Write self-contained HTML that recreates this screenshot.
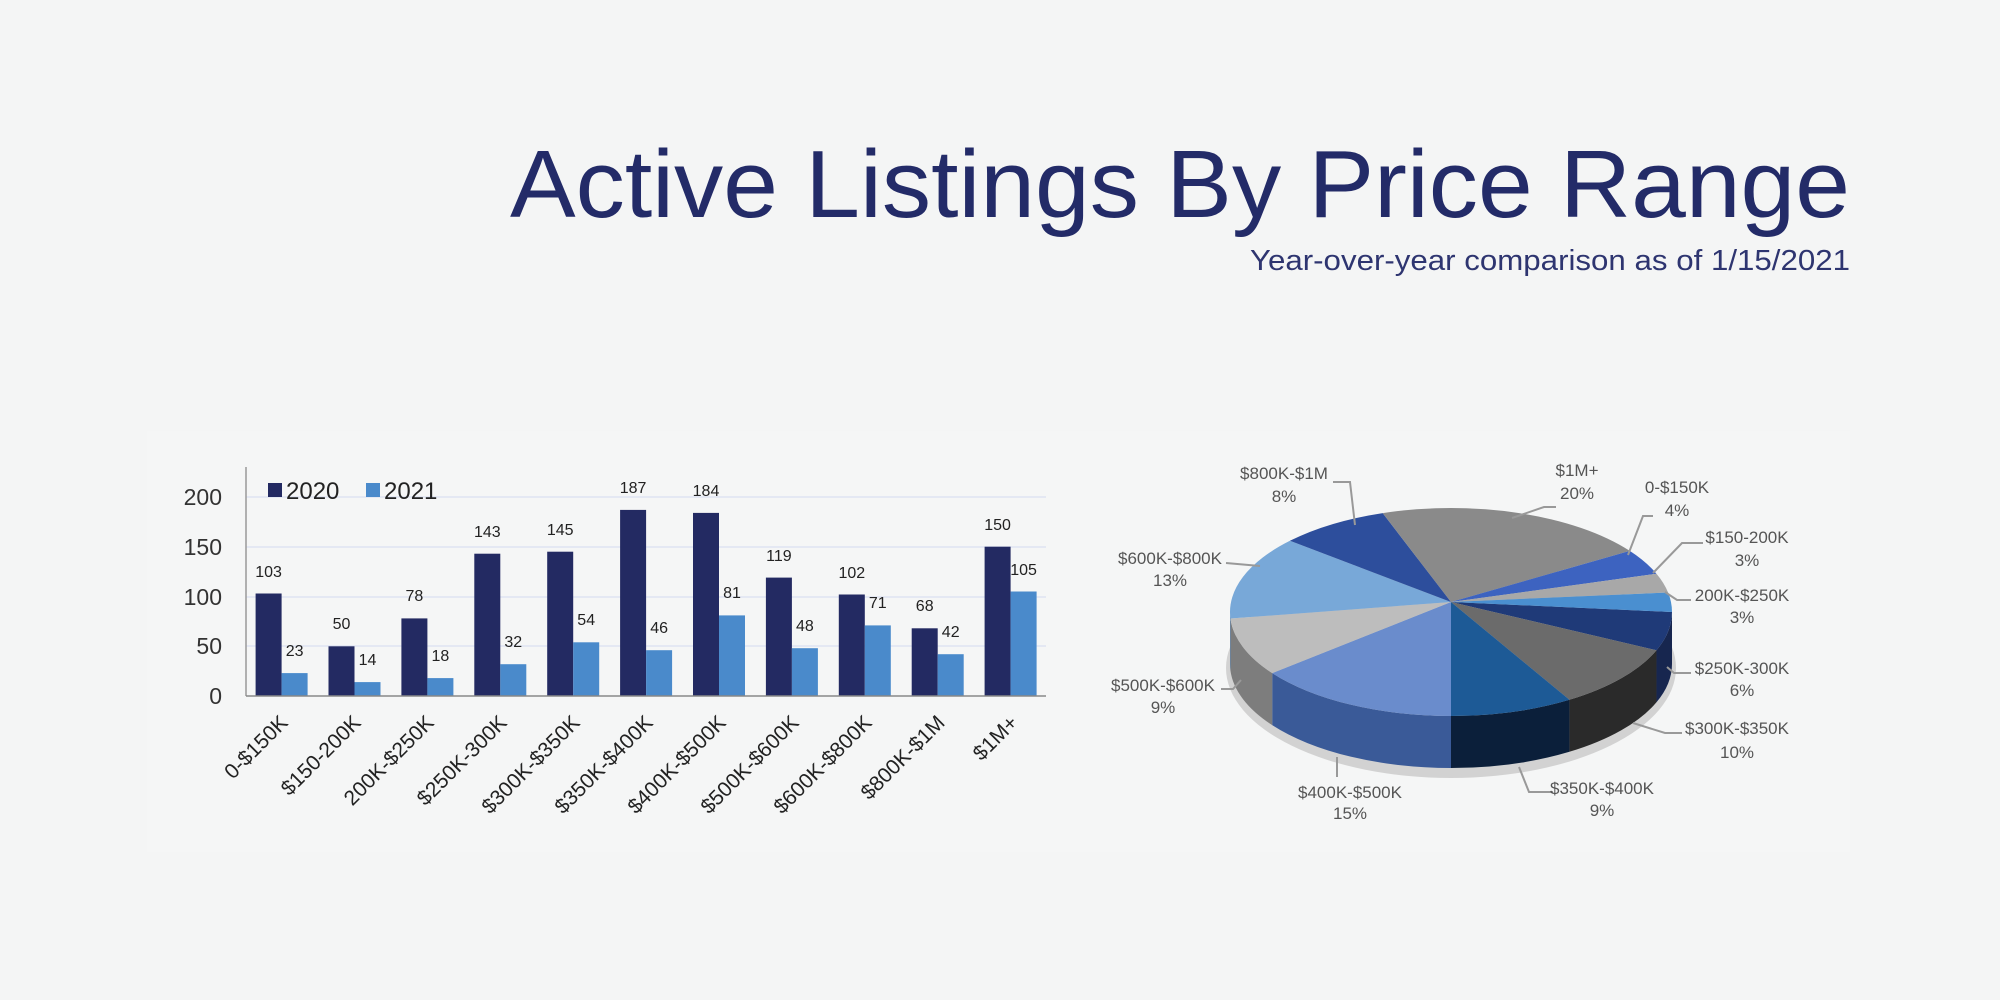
<!DOCTYPE html>
<html><head><meta charset="utf-8"><style>
html,body{margin:0;padding:0;background:#f4f5f5;}
svg{display:block;}
text{font-family:"Liberation Sans",Arial,sans-serif;}
</style></head><body>
<svg id="s" width="2000" height="1000" viewBox="0 0 2000 1000" xmlns="http://www.w3.org/2000/svg">
<rect width="2000" height="1000" fill="#f4f5f5"/>
<rect x="147" y="431" width="1703" height="421" fill="#f5f6f6"/>
<text x="1850" y="217" text-anchor="end" font-size="96" fill="#232b68" textLength="1340" lengthAdjust="spacingAndGlyphs">Active Listings By Price Range</text>
<text x="1850" y="270" text-anchor="end" font-size="29" fill="#2e3570" textLength="600" lengthAdjust="spacingAndGlyphs">Year-over-year comparison as of 1/15/2021</text>

<g stroke="#dfe4f2" stroke-width="1.5">
<line x1="246" y1="497" x2="1046" y2="497"/><line x1="246" y1="547" x2="1046" y2="547"/>
<line x1="246" y1="597" x2="1046" y2="597"/><line x1="246" y1="646" x2="1046" y2="646"/>
</g>
<g font-size="23" fill="#333" text-anchor="end">
<text x="222" y="505">200</text><text x="222" y="555">150</text><text x="222" y="605">100</text><text x="222" y="654">50</text><text x="222" y="704">0</text>
</g>
<g fill="#232a62">
<rect x="255.6" y="593.5" width="26" height="102.5"/><rect x="328.5" y="646.3" width="26" height="49.7"/>
<rect x="401.4" y="618.4" width="26" height="77.6"/><rect x="474.3" y="553.7" width="26" height="142.3"/>
<rect x="547.2" y="551.7" width="26" height="144.3"/><rect x="620.1" y="509.9" width="26" height="186.1"/>
<rect x="693" y="512.9" width="26" height="183.1"/><rect x="765.9" y="577.6" width="26" height="118.4"/>
<rect x="838.8" y="594.5" width="26" height="101.5"/><rect x="911.7" y="628.3" width="26" height="67.7"/>
<rect x="984.6" y="546.7" width="26" height="149.3"/>
</g>
<g fill="#4a8acb">
<rect x="281.6" y="673.1" width="26" height="22.9"/><rect x="354.5" y="682.1" width="26" height="13.9"/>
<rect x="427.4" y="678.1" width="26" height="17.9"/><rect x="500.3" y="664.2" width="26" height="31.8"/>
<rect x="573.2" y="642.3" width="26" height="53.7"/><rect x="646.1" y="650.2" width="26" height="45.8"/>
<rect x="719" y="615.4" width="26" height="80.6"/><rect x="791.9" y="648.2" width="26" height="47.8"/>
<rect x="864.8" y="625.4" width="26" height="70.6"/><rect x="937.7" y="654.2" width="26" height="41.8"/>
<rect x="1010.6" y="591.5" width="26" height="104.5"/>
</g>
<line x1="246" y1="467" x2="246" y2="696" stroke="#999" stroke-width="1.5"/>
<line x1="246" y1="696" x2="1046" y2="696" stroke="#888" stroke-width="1.5"/>
<g font-size="16" fill="#222" text-anchor="middle">
<text x="268.6" y="577">103</text><text x="294.6" y="656">23</text>
<text x="341.5" y="629">50</text><text x="367.5" y="665">14</text>
<text x="414.4" y="601">78</text><text x="440.4" y="661">18</text>
<text x="487.3" y="537">143</text><text x="513.3" y="647">32</text>
<text x="560.2" y="535">145</text><text x="586.2" y="625">54</text>
<text x="633.1" y="493">187</text><text x="659.1" y="633">46</text>
<text x="706" y="496">184</text><text x="732" y="598">81</text>
<text x="778.9" y="561">119</text><text x="804.9" y="631">48</text>
<text x="851.8" y="578">102</text><text x="877.8" y="608">71</text>
<text x="924.7" y="611">68</text><text x="950.7" y="637">42</text>
<text x="997.6" y="530">150</text><text x="1023.6" y="575">105</text>
</g>
<rect x="268" y="483" width="14" height="14" fill="#232a62"/>
<text x="286" y="499" font-size="24" fill="#222">2020</text>
<rect x="366" y="483" width="14" height="14" fill="#4a8acb"/>
<text x="384" y="499" font-size="24" fill="#222">2021</text>
<g font-size="21" fill="#222" text-anchor="end">
<text transform="translate(289,724) rotate(-45)">0-$150K</text>
<text transform="translate(362,724) rotate(-45)">$150-200K</text>
<text transform="translate(435,724) rotate(-45)">200K-$250K</text>
<text transform="translate(508,724) rotate(-45)">$250K-300K</text>
<text transform="translate(581,724) rotate(-45)">$300K-$350K</text>
<text transform="translate(654,724) rotate(-45)">$350K-$400K</text>
<text transform="translate(727,724) rotate(-45)">$400K-$500K</text>
<text transform="translate(800,724) rotate(-45)">$500K-$600K</text>
<text transform="translate(873,724) rotate(-45)">$600K-$800K</text>
<text transform="translate(946,724) rotate(-45)">$800K-$1M</text>
<text transform="translate(1019,724) rotate(-45)">$1M+</text>
</g>

<g id="pie"></g>

<g stroke="#999" stroke-width="2" fill="none">
<polyline points="1333,482 1350,482 1355,525"/>
<polyline points="1556,507 1544,507 1512,518"/>
<polyline points="1653,516 1643,516 1628,555"/>
<polyline points="1703,543 1682,543 1653,573"/>
<polyline points="1691,600 1677,600 1665,592"/>
<polyline points="1691,673 1674,673 1667,667"/>
<polyline points="1682,733 1665,733 1633,723"/>
<polyline points="1553,792 1529,792 1519,767"/>
<polyline points="1337,777 1337,757"/>
<polyline points="1221,689 1233,689 1241,680"/>
<polyline points="1226,563 1260,566"/>
</g>
<g font-size="17" fill="#555" text-anchor="middle">
<text x="1284" y="479">$800K-$1M</text><text x="1284" y="502">8%</text>
<text x="1577" y="476">$1M+</text><text x="1577" y="499">20%</text>
<text x="1677" y="493">0-$150K</text><text x="1677" y="516">4%</text>
<text x="1747" y="543">$150-200K</text><text x="1747" y="566">3%</text>
<text x="1742" y="601">200K-$250K</text><text x="1742" y="623">3%</text>
<text x="1742" y="674">$250K-300K</text><text x="1742" y="696">6%</text>
<text x="1737" y="734">$300K-$350K</text><text x="1737" y="758">10%</text>
<text x="1602" y="794">$350K-$400K</text><text x="1602" y="816">9%</text>
<text x="1350" y="798">$400K-$500K</text><text x="1350" y="819">15%</text>
<text x="1163" y="691">$500K-$600K</text><text x="1163" y="713">9%</text>
<text x="1170" y="564">$600K-$800K</text><text x="1170" y="586">13%</text>
</g>
</svg>
<script>
(function(){
var NS="http://www.w3.org/2000/svg",g=document.getElementById("pie");
var cx=1451,cy=612,rx=221,ry=104,d=52,ay=602;
var sl=[[6,"#1f3a78","#17264f"],[10,"#6b6b6b","#2a2a2a"],[9,"#1d5a96","#0b1f3a"],[15,"#6a8ccc","#3a5a98"],[9,"#bdbdbd","#7d7d7d"],[13,"#78a8d8","#4f7fb0"],[8,"#2d4e9c","#1d3470"],[20,"#8a8a8a","#555"],[4,"#3d63c0","#2a458a"],[3,"#a8a8a8","#777"],[3,"#4a8fd0","#336aa0"]];
function P(a,dy){var r=a*Math.PI/180;return [cx+rx*Math.cos(r),cy+ry*Math.sin(r)+(dy||0)];}
function add(dstr,f){var p=document.createElementNS(NS,"path");p.setAttribute("d",dstr);p.setAttribute("fill",f);g.appendChild(p);}
var sh=document.createElementNS(NS,"ellipse");sh.setAttribute("cx",cx);sh.setAttribute("cy",cy+d+4);sh.setAttribute("rx",rx+4);sh.setAttribute("ry",ry+6);sh.setAttribute("fill","#bbb");sh.setAttribute("opacity","0.6");g.appendChild(sh);
var a=0,angs=[];
sl.forEach(function(s){var b=a+s[0]*3.6;angs.push([a,b,s]);a=b;});
angs.forEach(function(x){var a1=Math.max(x[0],0),a2=Math.min(x[1],180);if(a2<=a1)return;
var p1=P(a1),p2=P(a2),q2=P(a2,d),q1=P(a1,d);
add("M"+p1+" A"+rx+" "+ry+" 0 0 1 "+p2+" L"+q2+" A"+rx+" "+ry+" 0 0 0 "+q1+" Z",x[2][2]);});
angs.forEach(function(x){var p1=P(x[0]),p2=P(x[1]),lg=(x[1]-x[0])>180?1:0;
add("M"+cx+","+ay+" L"+p1+" A"+rx+" "+ry+" 0 "+lg+" 1 "+p2+" Z",x[2][1]);});
})();
</script>
</body></html>
